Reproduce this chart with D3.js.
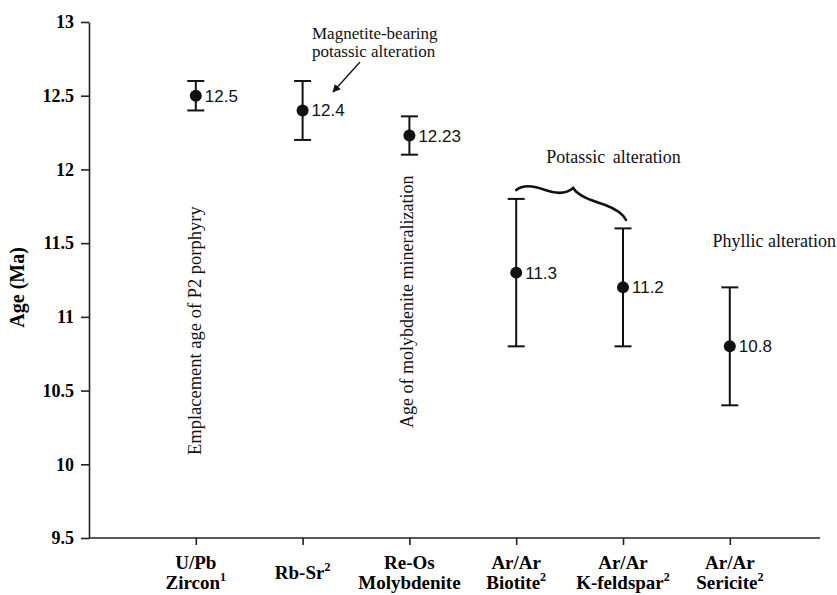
<!DOCTYPE html>
<html>
<head>
<meta charset="utf-8">
<script src="https://cdn.jsdelivr.net/npm/d3@7"></script>
<style>
	body { margin: 0; background: #fff; }
	svg { display: block; }
</style>
</head>
<body>
<div class="age-chart"></div>
<script>
const categories = ["U/Pb Zircon", "Rb-Sr", "Re-Os Molybdenite", "Ar/Ar Biotite", "Ar/Ar K-feldspar", "Ar/Ar Sericite"];
const labelLines = [["U/Pb", "Zircon"], ["Rb-Sr"], ["Re-Os", "Molybdenite"], ["Ar/Ar", "Biotite"], ["Ar/Ar", "K-feldspar"], ["Ar/Ar", "Sericite"]];
const labelSup = ["1", "2", "", "2", "2", "2"];
const ages = [12.5, 12.4, 12.23, 11.3, 11.2, 10.8];
const ageLabels = ["12.5", "12.4", "12.23", "11.3", "11.2", "10.8"];
const errLow = [12.4, 12.2, 12.1, 10.8, 10.8, 10.4];
const errHigh = [12.6, 12.6, 12.36, 11.8, 11.6, 11.2];
const yTicks = [9.5, 10, 10.5, 11, 11.5, 12, 12.5, 13];

const W = 837, H = 595;
const margin = { left: 89, top: 22, bottom: 538 };

const serif = "'Liberation Serif', 'Times New Roman', serif";
const sans = "'Liberation Sans', Arial, sans-serif";

const svg = d3.select(".age-chart")
	.append("svg")
	.attr("width", W)
	.attr("height", H);

const y = d3.scaleLinear().domain([9.5, 13]).range([margin.bottom, margin.top]);

// point scale, one step of padding at each side
const x = d3.scalePoint()
	.domain(categories)
	.range([margin.left, margin.left + 106.8 * 7])
	.padding(1);

// y axis
const yAxis = svg.append("g")
	.attr("transform", `translate(${margin.left},0)`)
	.call(d3.axisLeft(y).tickValues(yTicks).tickSize(8).tickSizeOuter(0).tickPadding(7).tickFormat(d3.format("")));
yAxis.select(".domain").attr("stroke", "#222").attr("stroke-width", 1.6);
yAxis.selectAll(".tick line").attr("stroke", "#222").attr("stroke-width", 1.6);
yAxis.selectAll(".tick text")
	.attr("fill", "#000")
	.style("font", `bold 18px ${serif}`);

// x axis
const xAxis = svg.append("g")
	.attr("transform", `translate(0,${margin.bottom})`)
	.call(d3.axisBottom(x).tickSize(7).tickSizeOuter(0).tickFormat(""));
xAxis.select(".domain").attr("d", `M${margin.left},0H820`).attr("stroke", "#222").attr("stroke-width", 1.6);
xAxis.selectAll(".tick line").attr("stroke", "#222").attr("stroke-width", 1.6);

// category labels (two lines + superscript)
categories.forEach((c, i) => {
	const lines = labelLines[i];
	const t = svg.append("text")
		.attr("text-anchor", "middle")
		.attr("fill", "#000")
		.style("font", `bold 19px ${serif}`);
	const base = lines.length === 1 ? 579 : 569;
	lines.forEach((ln, j) => {
		const ts = t.append("tspan")
			.attr("x", x(c))
			.attr("y", base + j * 20)
			.text(ln);
		if (j === lines.length - 1 && labelSup[i]) {
			ts.append("tspan")
				.attr("dy", -8)
				.style("font-size", "12px")
				.text(labelSup[i]);
		}
	});
});

// y title
svg.append("text")
	.attr("transform", `translate(24,${y(11.2)}) rotate(-90)`)
	.attr("text-anchor", "middle")
	.attr("fill", "#000")
	.style("font", `bold 20px ${serif}`)
	.text("Age (Ma)");

// error bars
const bars = svg.append("g").attr("stroke", "#111").attr("stroke-width", 2);
categories.forEach((c, i) => {
	const cx = x(c);
	bars.append("line").attr("x1", cx).attr("x2", cx).attr("y1", y(errLow[i])).attr("y2", y(errHigh[i]));
	bars.append("line").attr("x1", cx - 8.5).attr("x2", cx + 8.5).attr("y1", y(errLow[i])).attr("y2", y(errLow[i]));
	bars.append("line").attr("x1", cx - 8.5).attr("x2", cx + 8.5).attr("y1", y(errHigh[i])).attr("y2", y(errHigh[i]));
});

svg.selectAll("circle.pt")
	.data(ages)
	.enter()
	.append("circle")
	.attr("class", "pt")
	.attr("cx", (d, i) => x(categories[i]))
	.attr("cy", (d) => y(d))
	.attr("r", 6)
	.attr("fill", "#111");

svg.selectAll("text.val")
	.data(ages)
	.enter()
	.append("text")
	.attr("class", "val")
	.attr("x", (d, i) => x(categories[i]) + 9)
	.attr("y", (d) => y(d) + 6)
	.attr("fill", "#111")
	.style("font", `17px ${sans}`)
	.text((d, i) => ageLabels[i]);

// vertical annotations
svg.append("text")
	.attr("transform", `translate(${x(categories[0]) + 5},455) rotate(-90)`)
	.attr("fill", "#111")
	.style("font", `18.5px ${serif}`)
	.text("Emplacement age of P2 porphyry");

svg.append("text")
	.attr("transform", `translate(${x(categories[2]) + 4},428) rotate(-90)`)
	.attr("fill", "#111")
	.style("font", `18px ${serif}`)
	.text("Age of molybdenite mineralization");

// Magnetite-bearing note + arrow
svg.append("text")
	.attr("fill", "#111")
	.style("font", `17px ${serif}`)
	.call((t) => {
		t.append("tspan").attr("x", 312).attr("y", 39).text("Magnetite-bearing");
		t.append("tspan").attr("x", 312).attr("y", 57).text("potassic alteration");
	});

svg.append("defs").append("marker")
	.attr("id", "arrow")
	.attr("viewBox", "0 0 10 10")
	.attr("refX", 9).attr("refY", 5)
	.attr("markerWidth", 8).attr("markerHeight", 8)
	.attr("markerUnits", "userSpaceOnUse")
	.attr("orient", "auto")
	.append("path")
	.attr("d", "M0,0L10,5L0,10z")
	.attr("fill", "#111");

svg.append("line")
	.attr("x1", 360).attr("y1", 62)
	.attr("x2", 333).attr("y2", 92)
	.attr("stroke", "#111")
	.attr("stroke-width", 1.3)
	.attr("marker-end", "url(#arrow)");

// potassic brace
const bx0 = x(categories[3]), bx1 = x(categories[4]) + 3;
svg.append("path")
	.attr("d", `M${bx0},190 C${bx0 + 6},185 ${bx0 + 16},185 ${bx0 + 29},190 C${bx0 + 40},194 ${bx0 + 50},194 ${bx0 + 57},188 C${bx0 + 62},196 ${bx0 + 74},200 ${bx0 + 89},205 C${bx1 - 10},209 ${bx1 - 3},214 ${bx1},220`)
	.attr("fill", "none")
	.attr("stroke", "#111")
	.attr("stroke-width", 2.6)
	.attr("stroke-linecap", "round");

svg.append("text")
	.attr("x", (x(categories[3]) + x(categories[4])) / 2 + 44)
	.attr("y", 163)
	.attr("text-anchor", "middle")
	.attr("fill", "#111")
	.style("font", `18px ${serif}`)
	.style("word-spacing", "3px")
	.text("Potassic alteration");

svg.append("text")
	.attr("x", 836)
	.attr("y", 247)
	.attr("text-anchor", "end")
	.attr("fill", "#111")
	.style("font", `18px ${serif}`)
	.text("Phyllic alteration");
</script>
</body>
</html>
